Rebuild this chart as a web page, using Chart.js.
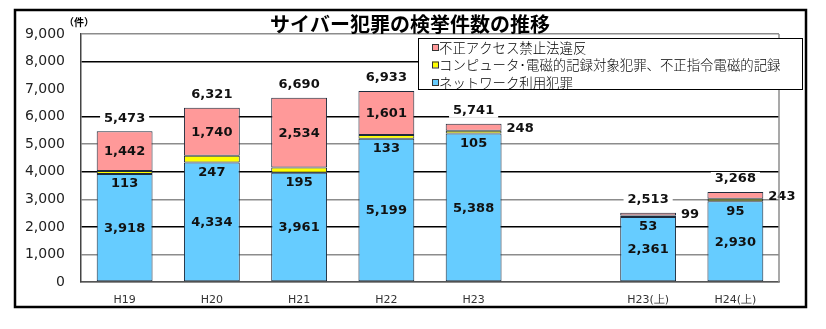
<!DOCTYPE html>
<html lang="ja">
<head>
<meta charset="utf-8">
<title>サイバー犯罪の検挙件数の推移</title>
<script src="https://cdn.jsdelivr.net/npm/chart.js@4.4.1/dist/chart.umd.min.js"></script>
<style>
  html, body { margin: 0; padding: 0; background: #fff; }
</style>
</head>
<body>
<canvas id="crime-chart" width="826" height="329"></canvas>
<script>
// 年度（空欄は年次と上半期の間のすき間）
const years = ['H19', 'H20', 'H21', 'H22', 'H23', '', 'H23(上)', 'H24(上)'];

// 検挙件数
const networkCrime = [3918, 4334, 3961, 5199, 5388, null, 2361, 2930];
const computerCrime = [113, 247, 195, 133, 105, null, 53, 95];
const unauthorizedAccess = [1442, 1740, 2534, 1601, 248, null, 99, 243];

const seriesNames = [
    'ネットワーク利用犯罪',
    'コンピュータ･電磁的記録対象犯罪、不正指令電磁的記録',
    '不正アクセス禁止法違反'
];
const seriesColors = ['#66CCFF', '#FFFF00', '#FF9999'];

const yMax = 9000;
const yStep = 1000;

const fmt = n => n.toLocaleString('en-US');

// 外枠・タイトル・単位・凡例
const framePlugin = {
    id: 'frame',
    afterDraw(chart) {
        const ctx = chart.ctx;
        const area = chart.chartArea;
        ctx.save();

        // 外枠
        ctx.strokeStyle = '#000';
        ctx.lineWidth = 2.5;
        ctx.strokeRect(15, 10, 791, 297);

        // プロット右端
        ctx.strokeStyle = '#8c8c8c';
        ctx.lineWidth = 1.5;
        ctx.beginPath();
        ctx.moveTo(area.right, area.top);
        ctx.lineTo(area.right, area.bottom);
        ctx.stroke();

        // タイトル
        ctx.fillStyle = '#000';
        ctx.font = 'bold 20px "Noto Sans CJK JP"';
        ctx.textAlign = 'center';
        ctx.textBaseline = 'middle';
        ctx.fillText('サイバー犯罪の検挙件数の推移', 410, 24);

        // 単位
        ctx.font = 'bold 10px "Noto Sans CJK JP"';
        ctx.textAlign = 'left';
        ctx.fillText('（件）', 64, 22);

        // 凡例（積み上げの上から順）
        const lx = 418, ly = 38, lw = 384, lh = 51;
        ctx.fillStyle = '#fff';
        ctx.fillRect(lx, ly, lw, lh);
        ctx.strokeStyle = '#000';
        ctx.lineWidth = 1;
        ctx.strokeRect(lx + 0.5, ly + 0.5, lw, lh);
        ctx.font = '300 13.4px "Noto Sans CJK JP"';
        ctx.textBaseline = 'middle';
        [2, 1, 0].forEach((k, row) => {
            const y = ly + 9 + row * 17.5;
            ctx.fillStyle = seriesColors[k];
            ctx.fillRect(lx + 14, y - 3, 6, 6);
            ctx.strokeStyle = '#333';
            ctx.strokeRect(lx + 14.5, y - 2.5, 6, 6);
            ctx.fillStyle = '#000';
            ctx.fillText(seriesNames[k], lx + 21, y + 0.5);
        });
        ctx.restore();
    }
};

// 棒グラフの数値ラベル
const valueLabels = {
    id: 'valueLabels',
    afterDatasetsDraw(chart) {
        const ctx = chart.ctx;
        const [netMeta, compMeta, accMeta] = [0, 1, 2].map(i => chart.getDatasetMeta(i));
        ctx.save();
        ctx.font = 'bold 13px "DejaVu Sans"';
        ctx.textBaseline = 'middle';
        years.forEach((year, i) => {
            if (networkCrime[i] == null) return;
            const net = netMeta.data[i];
            const comp = compMeta.data[i];
            const acc = accMeta.data[i];
            ctx.fillStyle = '#111';
            ctx.textAlign = 'center';
            ctx.fillText(fmt(networkCrime[i]), net.x, (net.y + net.base) / 2 + 1);
            ctx.fillText(fmt(computerCrime[i]), comp.x, comp.base + 10);

            const accY = (acc.y + acc.base) / 2;
            if (unauthorizedAccess[i] >= 500) {
                ctx.fillText(fmt(unauthorizedAccess[i]), acc.x, accY + 1);
            } else {
                ctx.textAlign = 'left';
                ctx.fillText(fmt(unauthorizedAccess[i]), acc.x + acc.width / 2 + 5, accY + 1);
            }

            // 合計
            const total = networkCrime[i] + computerCrime[i] + unauthorizedAccess[i];
            const text = fmt(total);
            const ty = acc.y - 13;
            const w = ctx.measureText(text).width;
            ctx.fillStyle = '#fff';
            ctx.fillRect(acc.x - w / 2 - 4, ty - 7, w + 8, 14);
            ctx.fillStyle = '#111';
            ctx.textAlign = 'center';
            ctx.fillText(text, acc.x, ty);
        });
        ctx.restore();
    }
};

function initChart() {
    const ctx = document.getElementById('crime-chart').getContext('2d');
    const data = [networkCrime, computerCrime, unauthorizedAccess];
    new Chart(ctx, {
        type: 'bar',
        data: {
            labels: years,
            datasets: data.map((values, k) => ({
                label: seriesNames[k],
                data: values,
                backgroundColor: seriesColors[k],
                borderColor: '#1e2b3c',
                borderWidth: 1,
                borderSkipped: false,
                barPercentage: 0.64,
                categoryPercentage: 1
            }))
        },
        options: {
            responsive: false,
            animation: false,
            layout: { padding: { top: 34, right: 47, left: 0, bottom: 0 } },
            plugins: {
                legend: { display: false },
                title: { display: false },
                tooltip: { enabled: false }
            },
            scales: {
                x: {
                    stacked: true,
                    afterFit: s => { s.height = 47; },
                    grid: { display: false, drawTicks: false },
                    border: { color: '#555', width: 1.5 },
                    ticks: {
                        padding: 12,
                        color: '#333',
                        font: { family: 'DejaVu Sans', size: 11 }
                    }
                },
                y: {
                    stacked: true,
                    min: 0,
                    max: yMax,
                    afterFit: s => { s.width = 81; },
                    grid: {
                        drawTicks: false,
                        lineWidth: 1.5,
                        color: c => {
                            const v = c.tick.value;
                            if (v === 7000) return 'rgba(0,0,0,0)';
                            return v % 2000 === 0 && v !== 0 ? '#000' : '#8c8c8c';
                        }
                    },
                    border: { color: '#444', width: 1.5 },
                    ticks: {
                        stepSize: yStep,
                        padding: 16,
                        color: '#222',
                        font: { family: 'DejaVu Sans', size: 14 },
                        callback: v => fmt(v)
                    }
                }
            }
        },
        plugins: [valueLabels, framePlugin]
    });
}

document.addEventListener('DOMContentLoaded', () => {
    initChart();
});
</script>
</body>
</html>
